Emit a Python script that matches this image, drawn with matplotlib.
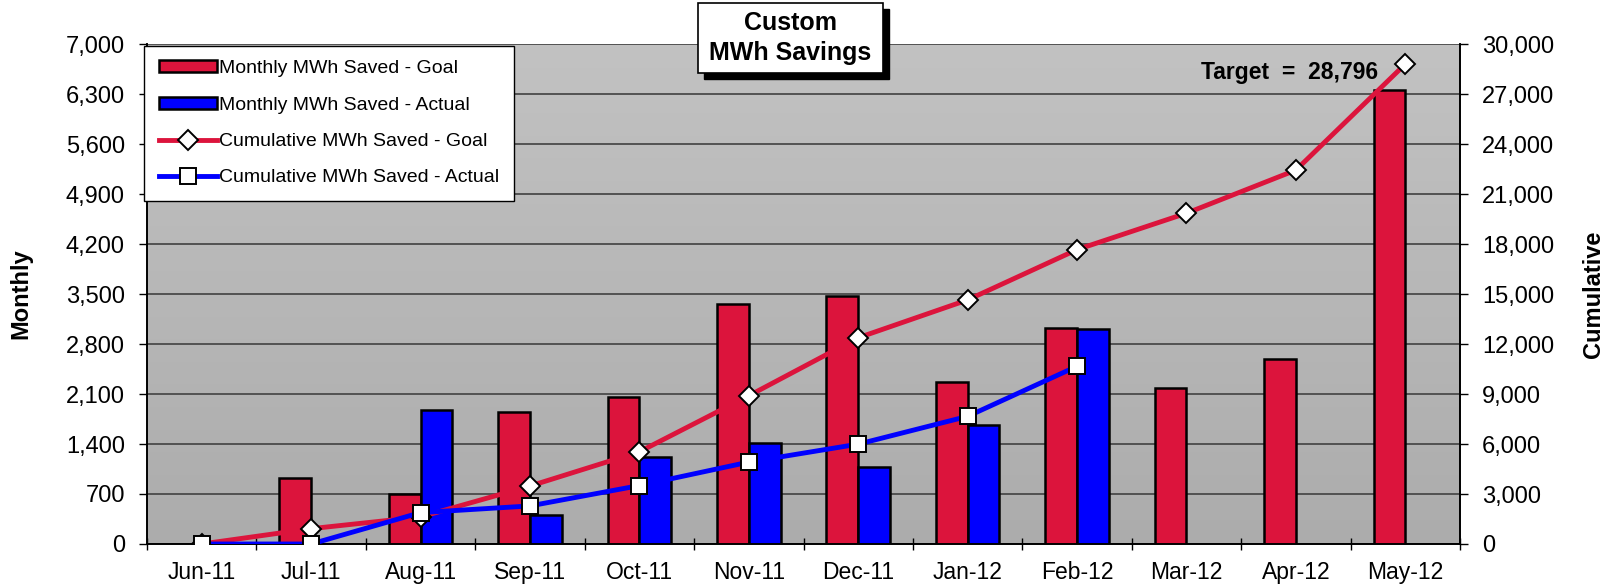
import numpy as np
import matplotlib
matplotlib.use("Agg")
import matplotlib.pyplot as plt
import matplotlib.patches as patches
from matplotlib.ticker import FuncFormatter, FixedLocator

plt.rcParams['font.family'] = ['Liberation Sans', 'DejaVu Sans']

months = ['Jun-11', 'Jul-11', 'Aug-11', 'Sep-11', 'Oct-11', 'Nov-11',
          'Dec-11', 'Jan-12', 'Feb-12', 'Mar-12', 'Apr-12', 'May-12']
goal_monthly = [0, 920, 704, 1854, 2055, 3363, 3478, 2271, 3018, 2184, 2587, 6362]
actual_monthly = [0, 0, 1883, 402, 1221, 1408, 1078, 1667, 3004]
goal_cum = [0, 920, 1624, 3478, 5533, 8896, 12374, 14645, 17663, 19847, 22434, 28796]
actual_cum = [0, 0, 1883, 2285, 3506, 4914, 5992, 7659, 10663]
target = 28796

red = '#DC143C'
blue = '#0000FF'

fig = plt.figure(figsize=(16.1, 5.87), dpi=100)
ax = fig.add_axes([147/1610, 1 - 544/587, (1460-147)/1610, (544-44)/587])
ax2 = ax.twinx()

# gray gradient background
grad = np.linspace(0, 1, 256).reshape(-1, 1)
ax.imshow(grad, extent=[-0.5, 11.5, 0, 7000], aspect='auto',
          cmap=matplotlib.colors.LinearSegmentedColormap.from_list('g', ['#c2c2c2', '#acacac']),
          origin='upper', zorder=0)

x = np.arange(len(months))
w = 0.29
ax.bar(x - w/2, goal_monthly, w, color=red, edgecolor='black', linewidth=1.8,
       zorder=3, label='Monthly MWh Saved - Goal')
xa = np.arange(len(actual_monthly))
ax.bar(xa + w/2, actual_monthly, w, color=blue, edgecolor='black', linewidth=1.8,
       zorder=3, label='Monthly MWh Saved - Actual')

ax.set_xlim(-0.5, 11.5)
ax.set_ylim(0, 7000)
ax.set_yticks(np.arange(0, 7001, 700))
ax.yaxis.set_major_formatter(FuncFormatter(lambda v, p: f'{int(v):,}'))
ax.grid(axis='y', color='#4a4a4a', linewidth=1.3, zorder=1)
ax.set_axisbelow(True)
ax.set_xticks(x)
ax.set_xticklabels(months)
ax.xaxis.set_minor_locator(FixedLocator(np.arange(-0.5, 12, 1)))
ax.tick_params(axis='x', which='major', length=0, labelsize=16.5, pad=12)
ax.tick_params(axis='x', which='minor', length=9, direction='inout', width=1)
ax.tick_params(axis='y', labelsize=17, length=6, width=1, pad=10)
ax.set_ylabel('Monthly', fontsize=17, fontweight='bold', labelpad=24)

ax2.plot(x, goal_cum, color=red, linewidth=3.5, marker='D', markersize=10,
         markerfacecolor='white', markeredgecolor='black', markeredgewidth=1.4,
         zorder=4, label='Cumulative MWh Saved - Goal')
ax2.plot(xa, actual_cum, color=blue, linewidth=3.5, marker='s', markersize=11,
         markerfacecolor='white', markeredgecolor='black', markeredgewidth=1.4,
         zorder=5, label='Cumulative MWh Saved - Actual')
ax2.set_ylim(0, 30000)
ax2.set_yticks(np.arange(0, 30001, 3000))
ax2.yaxis.set_major_formatter(FuncFormatter(lambda v, p: f'{int(v):,}'))
ax2.tick_params(axis='y', labelsize=17, length=6, width=1, pad=10)
ax2.set_ylabel('Cumulative', fontsize=17, fontweight='bold', labelpad=20, rotation=90)

for a in (ax, ax2):
    a.spines['top'].set_visible(False)
    for s in ('left', 'right', 'bottom'):
        a.spines[s].set_linewidth(1.2)

ax2.text(len(months) - 1 - 0.25, target - 500, f'Target  =  {target:,}',
         ha='right', va='center', fontsize=16.5, fontweight='bold', zorder=6)

h1, l1 = ax.get_legend_handles_labels()
h2, l2 = ax2.get_legend_handles_labels()
leg = ax2.legend(h1 + h2, l1 + l2, loc='upper left', bbox_to_anchor=(-0.002, 0.997),
                 fontsize=14, frameon=True, fancybox=False, framealpha=1,
                 edgecolor='black', handlelength=3.0, handleheight=0.55,
                 labelspacing=1.0, borderpad=0.75, handletextpad=0.1, numpoints=1,
                 borderaxespad=0)
leg.get_frame().set_linewidth(1.0)
leg.set_zorder(10)

# title box with shadow
fw, fh = 1610, 587
bx0, bx1, by0, by1 = 698, 883, 3, 73
fig.patches.append(patches.Rectangle(((bx0 + 6)/fw, 1 - (by1 + 6)/fh), (bx1 - bx0)/fw,
                                     (by1 - by0)/fh, transform=fig.transFigure,
                                     facecolor='black', edgecolor='black', zorder=5))
fig.patches.append(patches.Rectangle((bx0/fw, 1 - by1/fh), (bx1 - bx0)/fw,
                                     (by1 - by0)/fh, transform=fig.transFigure,
                                     facecolor='white', edgecolor='black',
                                     linewidth=1.2, zorder=6))
fig.text((bx0 + bx1)/2/fw, 1 - (by0 + by1)/2/fh, 'Custom\nMWh Savings',
         ha='center', va='center', fontsize=18, fontweight='bold',
         linespacing=1.3, zorder=7)

fig.savefig('out.png', dpi=100)
